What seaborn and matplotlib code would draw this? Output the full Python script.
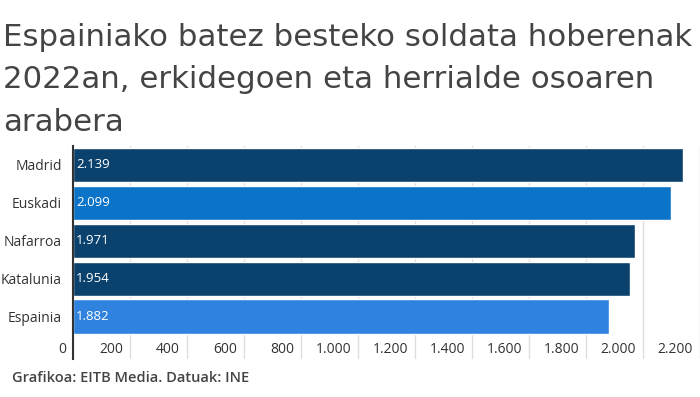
import matplotlib.pyplot as plt
import matplotlib.transforms as mtransforms
import seaborn as sns
import pandas as pd

regions = ['Madrid', 'Euskadi', 'Nafarroa', 'Katalunia', 'Espainia']
salaries = [2139, 2099, 1971, 1954, 1882]
bar_colors = ['#0b426d', '#0b74c8', '#0b426d', '#0b426d', '#2f83df']
x_ticks = [0, 200, 400, 600, 800, 1000, 1200, 1400, 1600, 1800, 2000, 2200]
title_lines = ['Espainiako batez besteko soldata hoberenak',
               '2022an, erkidegoen eta herrialde osoaren',
               'arabera']


def fmt(v):
    return '{:,}'.format(v).replace(',', '.')


df = pd.DataFrame({'region': regions, 'salary': salaries})

sns.set_style('white')
plt.rcParams['font.family'] = ['Open Sans', 'DejaVu Sans']

fig = plt.figure(figsize=(7, 3.97), dpi=100)
ax = fig.add_axes([73 / 700, 38 / 397, 627 / 700, 213 / 397])

sns.barplot(data=df, x='salary', y='region', hue='region', palette=bar_colors,
            legend=False, width=0.9, orient='h', saturation=1, ax=ax, zorder=3)

ax.set_xlim(0, 2200)
ax.set_ylim(5.12, -0.5)
ax.set_xlabel('')
ax.set_ylabel('')

ax.set_xticks(x_ticks)
ax.set_xticklabels([fmt(t) for t in x_ticks])
ax.grid(axis='x', color='#dedede', linewidth=1, zorder=0)
ax.tick_params(axis='x', length=0, pad=-12, labelsize=10, labelcolor='#333333')
offset = mtransforms.ScaledTranslation(-5 / 72, 0, fig.dpi_scale_trans)
for lbl in ax.get_xticklabels():
    lbl.set_ha('right')
    lbl.set_transform(lbl.get_transform() + offset)

ax.tick_params(axis='y', length=0, pad=8, labelsize=10, labelcolor='#333333')

for s in ['top', 'right', 'bottom']:
    ax.spines[s].set_visible(False)
ax.spines['left'].set_color('#333333')
ax.spines['left'].set_linewidth(1.5)
ax.spines['left'].set_zorder(5)

for i, v in enumerate(salaries):
    ax.text(10, i, fmt(v), color='white', va='center', ha='left',
            fontsize=9.5, zorder=6)

for k, line in enumerate(title_lines):
    fig.text(3 / 700, 1 - (46 + 42.5 * k) / 397, line, family='DejaVu Sans',
             fontsize=22.2, color='#444444', va='baseline')
fig.text(12 / 700, 1 - 378 / 397, 'Grafikoa: EITB Media. Datuak: INE',
         fontsize=10.5, color='#444444', fontweight='semibold', va='center')

fig.savefig('out.png', dpi=100)
